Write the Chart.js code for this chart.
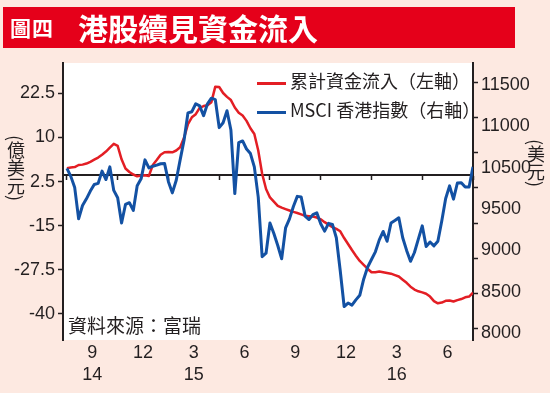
<!DOCTYPE html>
<html>
<head>
<meta charset="utf-8">
<script src="https://cdn.jsdelivr.net/npm/chart.js@4.4.1/dist/chart.umd.min.js"></script>
<style>
body { margin: 0; background: #fde9e1; }
#box { position: relative; width: 550px; height: 393px; overflow: hidden; font-family: "Noto Sans CJK TC", sans-serif; color: #231f20; }
#c { position: absolute; left: 0; top: 0; }
.band { position: absolute; left: 3px; top: 7px; width: 512px; height: 41px; background: #e5001a; color: #fff; font-weight: bold; }
.band .no { position: absolute; left: 7px; top: 0; line-height: 41px; font-size: 21px; letter-spacing: 1px; }
.band .tt { position: absolute; left: 75px; top: 0; line-height: 41px; font-size: 30px; }
#legend { position: absolute; left: 257px; top: 69px; font-size: 18px; }
#legend div { height: 29px; line-height: 22px; white-space: nowrap; }
#legend i { display: inline-block; width: 29px; height: 3px; vertical-align: middle; margin-right: 4px; }
.src { position: absolute; left: 68px; top: 313px; font-size: 19px; line-height: 24px; }
.yt { position: absolute; writing-mode: vertical-rl; font-size: 18px; line-height: 18px; }
</style>
</head>
<body>
<div id="box">
  <canvas id="c" width="550" height="393"></canvas>
  <div class="band"><span class="no">圖四</span><span class="tt">港股續見資金流入</span></div>
  <div id="legend"></div>
  <div class="src">資料來源：富瑞</div>
  <div class="yt" style="left:7px; top:135px;">(億美元)</div>
  <div class="yt" style="left:527px; top:139px;">(美元)</div>
</div>
<script>
// weekly points, Aug 2014 - Jul 2016 (x = week number)
const flowIn = [
  1.3, 1.5, 1.6, 2.2, 2.3, 2.6, 3.1, 3.7, 4.3, 5.1,
  6.0, 7.1, 8.2, 7.6, 3.8, 1.2, 0.2, -0.5, -1.0, -0.8,
  -0.7, -0.9, 2.2, 3.6, 5.1, 5.8, 5.9, 5.8, 6.3, 7.2,
  9.9, 13.8, 15.7, 16.6, 18.4, 18.9, 19.1, 20.0, 24.4, 24.3,
  22.6, 21.5, 20.6, 18.5, 17.0, 16.2, 14.7, 12.6, 11.0, 6.3,
  -0.3, -4.6, -7.0, -8.2, -9.4, -9.9, -10.3, -10.7, -11.1, -11.4,
  -11.8, -12.2, -12.3, -12.4, -12.7, -13.2, -14.0, -14.7, -15.4, -15.9,
  -16.6, -18.5, -20.2, -21.9, -23.5, -25.0, -26.1, -27.2, -28.2, -28.2,
  -28.0, -28.2, -28.4, -28.6, -29.0, -29.4, -30.3, -31.2, -32.3, -33.1,
  -33.6, -33.9, -34.3, -35.1, -36.4, -37.0, -36.8, -36.3, -36.2, -36.5,
  -36.1, -35.8, -35.3, -35.1, -34.0
];
const msciHK = [
  10280, 10165, 10005, 9560, 9750, 9845, 9955, 10050, 10065, 10240,
  10120, 10300, 9965, 9860, 9500, 9765, 9790, 9680, 10030, 10130,
  10400, 10285, 10310, 10325, 10345, 10350, 10090, 9930, 10110, 10400,
  10680, 11070, 11087, 11200, 11170, 11030, 11200, 11280, 11260, 10860,
  10930, 11100, 10826, 9920, 10645, 10670, 10555, 10490, 10300, 9870,
  9020, 9070, 9500, 9350, 9180, 8990, 9430, 9560, 9735, 9880,
  9870, 9600, 9550, 9620, 9645, 9490, 9385, 9495, 9480, 9290,
  8820, 8310, 8360, 8330, 8405, 8470, 8700, 8870, 8980, 9090,
  9260, 9380, 9240, 9500, 9535, 9575, 9290, 9110, 8955, 9080,
  9270, 9460, 9165, 9230, 9175, 9240, 9530, 9850, 10030, 9840,
  10071, 10075, 10014, 10014, 10300
];
const seriesNames = ['累計資金流入（左軸）', 'MSCI 香港指數（右軸）'];
const seriesColors = ['#e31e24', '#1351a3'];

const monthLabels = ['9', '12', '3', '6', '9', '12', '3', '6'];
const yearLabels = ['14', '', '15', '', '', '', '16', ''];
const weeksPerQuarter = 13;

const leftTicks = [22.5, 10, -2.5, -15, -27.5, -40];
const leftTickLabels = ['22.5', '10', '2.5', '-15', '-27.5', '-40'];
const rightTicks = [11500, 11000, 10500, 10000, 9500, 9000, 8500, 8000];
const rightTickLabels = ['11500', '11000', '10500', '9500', '9000', '8500', '8000'];
const rightLabelRange = [11467, 7933];   // labels are spread a bit wider than the tick marks
const ZERO_LINE = -0.6;

const INK = '#231f20';
const tickFont = { family: "'Liberation Sans Narrow', 'Liberation Sans', Arial, sans-serif", size: 18, lineHeight: 22 / 18 };

const plotBg = {
  id: 'plotBg',
  beforeDraw(c) {
    const a = c.chartArea;
    c.ctx.save();
    c.ctx.fillStyle = '#ffffff';
    c.ctx.fillRect(a.left, a.top, a.width, a.height);
    c.ctx.restore();
  }
};

const toPoints = arr => arr.map((v, i) => ({ x: i, y: v }));

const chart = new Chart(document.getElementById('c'), {
  type: 'line',
  data: {
    datasets: [
      { label: seriesNames[0], data: toPoints(flowIn), borderColor: seriesColors[0], backgroundColor: seriesColors[0],
        borderWidth: 2.5, pointRadius: 0, yAxisID: 'yL', xAxisID: 'x', order: 1 },
      { label: seriesNames[1], data: toPoints(msciHK), borderColor: seriesColors[1], backgroundColor: seriesColors[1],
        borderWidth: 3, pointRadius: 0, yAxisID: 'yR', xAxisID: 'x', order: 0 }
    ]
  },
  options: {
    responsive: false,
    devicePixelRatio: 1,
    animation: false,
    layout: { padding: { top: 63, left: 0, right: 0, bottom: 0 } },
    plugins: { legend: { display: false }, tooltip: { enabled: false } },
    elements: { line: { tension: 0, borderJoinStyle: 'round' } },
    scales: {
      x: {
        type: 'linear', position: 'bottom', min: -1, max: flowIn.length - 1, bounds: 'data',
        grid: { display: false, drawTicks: false }, border: { display: false },
        afterBuildTicks: s => { s.ticks = monthLabels.map((m, k) => ({ value: weeksPerQuarter * k + weeksPerQuarter / 2 })); },
        afterFit: s => { s.height = 53; },
        ticks: { autoSkip: false, maxRotation: 0, padding: 2, color: INK, font: tickFont,
          callback: (v, i) => yearLabels[i] ? [monthLabels[i], yearLabels[i]] : monthLabels[i] }
      },
      xq: {
        type: 'linear', axis: 'x', position: { yL: ZERO_LINE }, min: -1, max: flowIn.length - 1, bounds: 'data',
        grid: { display: true, drawOnChartArea: false, drawTicks: true, tickLength: 4, tickWidth: 1.5, tickColor: INK },
        border: { display: true, color: INK, width: 2 },
        afterBuildTicks: s => { s.ticks = Array.from({ length: monthLabels.length + 1 }, (_, k) => ({ value: weeksPerQuarter * k })); },
        ticks: { display: false }
      },
      yL: {
        type: 'linear', position: 'left', min: -47.4, max: 31.1, bounds: 'data',
        grid: { display: true, drawOnChartArea: false, drawTicks: true, tickLength: 5, tickWidth: 1.5, tickColor: INK },
        border: { display: true, color: INK, width: 2 },
        afterBuildTicks: s => { s.ticks = leftTicks.map(v => ({ value: v })); },
        afterFit: s => { s.width = 63; },
        ticks: { autoSkip: false, padding: 3, color: INK, font: tickFont, callback: (v, i) => leftTickLabels[i] }
      },
      yR: {
        type: 'linear', position: 'right', min: 7833, max: 11781, bounds: 'data',
        grid: { display: true, drawOnChartArea: false, drawTicks: true, tickLength: 5, tickWidth: 1.5,
          tickColor: ctx => (ctx.tick && ctx.tick.mark) ? INK : 'rgba(0,0,0,0)' },
        border: { display: true, color: INK, width: 2 },
        afterBuildTicks: s => {
          const marks = rightTicks.map(v => ({ value: v, mark: true }));
          const step = (rightLabelRange[1] - rightLabelRange[0]) / (rightTickLabels.length - 1);
          const labs = rightTickLabels.map((t, k) => ({ value: rightLabelRange[0] + k * step, text: t }));
          s.ticks = marks.concat(labs);
        },
        afterFit: s => { s.width = 77; },
        ticks: { autoSkip: false, padding: 3, color: INK, font: tickFont, callback: (v, i, ticks) => ticks[i].text || '' }
      }
    }
  },
  plugins: [plotBg]
});

// legend built from the chart's datasets
const lg = document.getElementById('legend');
chart.data.datasets.forEach(ds => {
  const row = document.createElement('div');
  const sw = document.createElement('i');
  sw.style.background = ds.borderColor;
  row.appendChild(sw);
  row.appendChild(document.createTextNode(ds.label));
  lg.appendChild(row);
});
</script>
</body>
</html>
